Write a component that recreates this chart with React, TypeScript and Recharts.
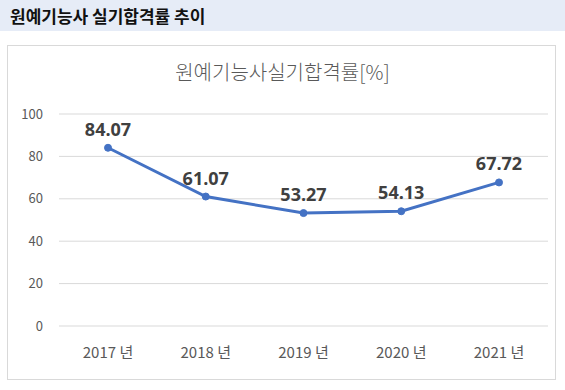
import { LineChart, Line, XAxis, YAxis, CartesianGrid, LabelList } from "recharts";

const years = ["2017 년", "2018 년", "2019 년", "2020 년", "2021 년"];
const passRates = [84.07, 61.07, 53.27, 54.13, 67.72];
const yTicks = [0, 20, 40, 60, 80, 100];

const chartData = years.map((year, i) => ({ year, rate: passRates[i] }));

const FONT = "'Noto Sans CJK KR', 'Noto Sans', sans-serif";

export default function App() {
  return (
    <div style={{ position: "absolute", left: 0, top: 0, width: 565, height: 390, background: "#fff", fontFamily: FONT }}>
      <div
        style={{
          position: "absolute", left: 0, top: 0, width: 565, height: 31, background: "#e6ecf7",
          fontSize: 17, fontWeight: 700, color: "#111", lineHeight: "31px", paddingLeft: 10, boxSizing: "border-box",
        }}
      >
        원예기능사 실기합격률 추이
      </div>
      <div
        style={{
          position: "absolute", left: 7, top: 45, width: 549, height: 335,
          border: "1px solid #d9d9d9", boxSizing: "border-box",
        }}
      />
      <div
        style={{
          position: "absolute", left: 0, top: 57, width: 565, textAlign: "center",
          fontSize: 20, fontWeight: 300, color: "#595959",
        }}
      >
        원예기능사실기합격률[%]
      </div>
      <div style={{ position: "absolute", left: 0, top: 0 }}>
        <LineChart width={565} height={390} data={chartData} margin={{ top: 114, right: 17, bottom: 0, left: 0 }}>
          <CartesianGrid vertical={false} stroke="#d9d9d9" />
          <XAxis
            dataKey="year"
            height={64}
            padding={{ left: 49, right: 49 }}
            axisLine={false}
            tickLine={false}
            tickSize={0}
            tickMargin={21}
            tick={{ fontSize: 15, fill: "#595959", fontFamily: FONT }}
          />
          <YAxis
            domain={[0, 100]}
            ticks={yTicks}
            width={59}
            axisLine={false}
            tickLine={false}
            tickSize={0}
            tickMargin={16}
            tick={{ fontSize: 13, fill: "#595959", fontFamily: FONT }}
          />
          <Line
            dataKey="rate"
            stroke="#4472c4"
            strokeWidth={3}
            dot={{ r: 3.5, fill: "#4472c4", stroke: "#4472c4", strokeWidth: 1 }}
            isAnimationActive={false}
          >
            <LabelList
              dataKey="rate"
              position="top"
              offset={12}
              formatter={(v: number) => v.toFixed(2)}
              style={{ fontSize: 18, fontWeight: 700, fill: "#404040", fontFamily: "'Open Sans', sans-serif" }}
            />
          </Line>
        </LineChart>
      </div>
    </div>
  );
}
